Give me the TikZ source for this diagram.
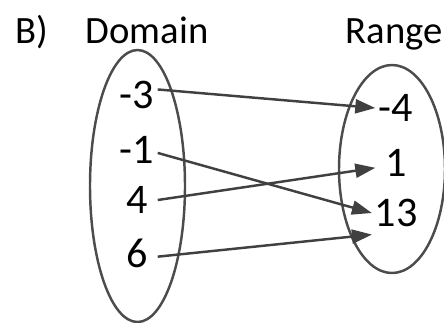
\documentclass[tikz,border=0pt]{standalone}
\usepackage{fontspec}
\setmainfont{Carlito}
\usetikzlibrary{arrows.meta}

\begin{document}
\begin{tikzpicture}[x=0.1mm,y=-0.1mm,
  num/.style={minimum width=4mm,inner sep=0.2mm,font=\fontsize{12}{14}\selectfont},
  head/.style={anchor=base west,inner sep=0pt,font=\fontsize{11}{13}\selectfont},
  setline/.style={draw=black!70,line width=0.7pt},
  maps/.style={->,>={Triangle[length=2mm,width=1.4mm]},draw=black!75,line width=0.7pt}]
\useasboundingbox (0,0) rectangle (444,322);

%headings
\node[head] (part) at (15,43) {B)};
\node[head] (dom) at (85,43) {Domain};
\node[head] (ran) at (345,43) {Range};

%the two sets
\draw[setline] (137.5,186) ellipse [x radius=47.5,y radius=136];
\draw[setline] (392,169) ellipse [x radius=53,y radius=104];

\node[num] (dm3) at (137,95) {-3};
\node[num] (dm1) at (137,150) {-1};
\node[num] (d4) at (137,200) {4};
\node[num] (d6) at (137,253) {6};

\node[num] (rm4) at (396,108) {-4};
\node[num] (r1) at (396,163) {1};
\node[num] (r13) at (396,213) {13};

%mapping
\draw[maps] (dm3.15)--(rm4.west);
\draw[maps] (dm1.-8)--(r13.west);
\draw[maps] (d4.east)--(r1.193);
\draw[maps] (d6.-10)--([yshift=-0.5mm]r13.south west);

\end{tikzpicture}
\end{document}
